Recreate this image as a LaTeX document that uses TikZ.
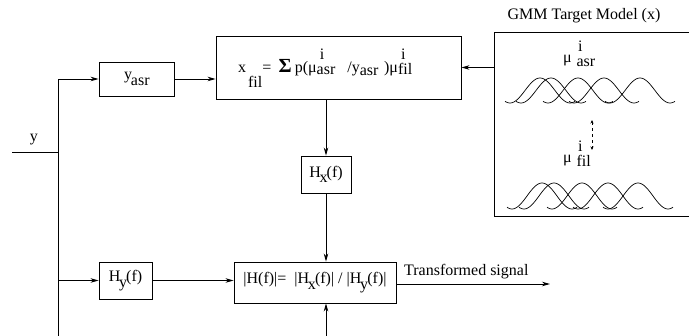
\documentclass[tikz,border=0pt]{standalone}
\usepackage{fontspec}
\setmainfont{Liberation Serif}
\usetikzlibrary{arrows.meta}
\newcommand{\fsz}{\fontsize{16}{19}\selectfont}
\newcommand{\supsubA}[2]{\rlap{\kern0.2em\raisebox{0.85em}{#1}}\raisebox{-0.1em}{#2}}
\newcommand{\supsubB}[2]{\rlap{\kern0.1em\raisebox{0.7em}{#1}}\raisebox{-0.25em}{#2}}
\newcommand{\lowsub}[1]{\kern-0.08em\raisebox{-0.35em}{#1}\kern-0.05em}
\tikzset{
  every node/.style={font=\fsz, inner sep=0pt},
  blk/.style={draw, line width=0.9pt, rectangle},
  wire/.style={line width=0.9pt},
  arr/.style={wire, -{Stealth[length=8pt,width=4.5pt,inset=2.5pt]}},
  gauss/.style={line width=0.7pt},
}
\begin{document}
\begin{tikzpicture}[x=1pt,y=-1pt]
\useasboundingbox (0,0) rectangle (689,336);
% blocks
\node[blk, minimum width=75pt, minimum height=34pt] (yasr) at (136.5,79) {y\lowsub{asr}};
\node[blk, minimum width=245pt, minimum height=63pt] (main) at (338.5,67.5) {};
\node[anchor=base west] (maintext) at (238,73)
  {x\kern0.12em\raisebox{-0.9em}{fil}=\hspace{0.45em}{\fontsize{20}{20}\selectfont\bfseries Σ}\hspace{0.2em}p(μ\supsubA{i}{asr}\hspace{0.75em}/y\raisebox{-0.18em}{asr}\hspace{0.35em})μ\supsubA{i}{fil}};
\node[blk, minimum width=198pt, minimum height=184pt] (gmm) at (593,124) {};
\node (gmmt) at (584,16) {GMM Target Model (x)};
\node[blk, minimum width=50pt, minimum height=37pt] (hx) at (326,174.5) {H\lowsub{x}(f)};
\node[blk, minimum width=162pt, minimum height=41pt] (hf) at (315,282.5)
  {|H(f)|=\hspace{0.5em}|H\lowsub{x}(f)| / |H\lowsub{y}(f)|};
\node[blk, minimum width=53pt, minimum height=37pt] (hy) at (125.5,280.5) {H\lowsub{y}(f)};
% input side
\coordinate (yin) at (12,152);
\coordinate (junc) at (58,152);
\coordinate (bot) at (58,336);
\node (ylab) at (34,140) {y};
\draw[wire] (yin) -- (junc);
\draw[arr] (bot) |- (yasr.west);
\draw[arr] (junc |- hy) -- (hy.west);
\draw[arr] (yasr.east) -- (yasr.east -| main.west);
\draw[arr] (gmm.west |- main) -- (main.east);
\draw[arr] (hx |- main.south) -- (hx.north);
\draw[arr] (hx.south) -- (hx |- hf.north);
\draw[arr] (hy.east) -- (hy.east -| hf.west);
\coordinate (hfbot) at (326,336);
\draw[arr] (hfbot) -- (hfbot |- hf.south);
\coordinate (out) at (550,284);
\draw[arr] (hf.east |- out) -- (out);
\node[anchor=base west] (tsig) at (404,276) {Transformed signal};
% GMM contents
\node[anchor=base west] (muasr) at (563,63) {μ\kern0.3em\supsubB{i}{asr}};
\node[anchor=base west] (mufil) at (563,163) {μ\kern0.3em\supsubB{i}{fil}};
\coordinate (da) at (592,120);
\coordinate (db) at (592,150);
\draw[line width=0.6pt, dashed, {Stealth[length=3.5pt,width=3pt]}-{Stealth[length=3.5pt,width=3pt]}] (da) -- (db);
\foreach \m in {540,551,578,604,640}{
  \draw[gauss] plot[domain={\m-35}:{\m+35}, samples=60, smooth] (\x, {103 - 25*(1+cos(6*(\x-\m)))/2});
}
\foreach \m in {542,554,582,608,638}{
  \draw[gauss] plot[domain={\m-35}:{\m+35}, samples=60, smooth] (\x, {209 - 26*(1+cos(6*(\x-\m)))/2});
}
\end{tikzpicture}
\end{document}
